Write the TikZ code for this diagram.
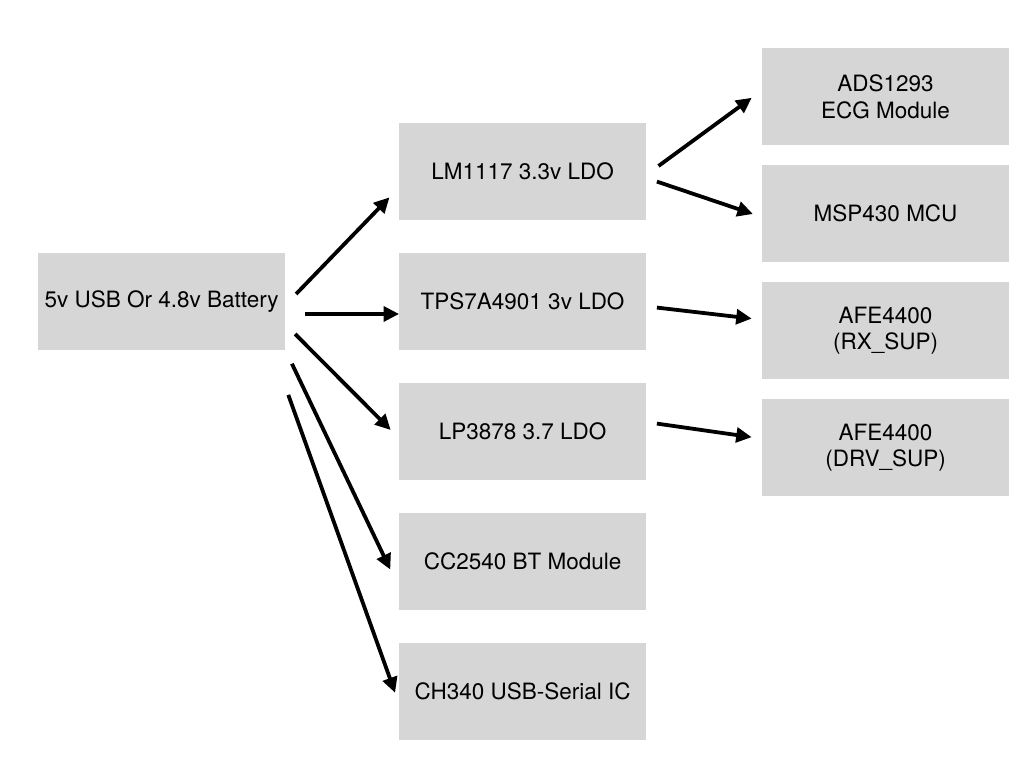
\documentclass[tikz,border=0pt]{standalone}
\usepackage{fontspec}
\setmainfont{TeX Gyre Heros}
\usepackage{tikz}
\usetikzlibrary{arrows.meta,calc,positioning,shapes}
\definecolor{boxgray}{RGB}{214,214,214}

\begin{document}
\begin{tikzpicture}[-{Triangle[length=11pt,width=10.5pt]},line width=2.7pt,
node distance=0.825cm]
\tikzstyle{block}=[fill=boxgray,draw=none,text=black,minimum width=6.175cm,
minimum height=2.425cm,inner sep=0pt,outer sep=0pt,align=center,
font=\fontsize{16}{19}\selectfont]
\useasboundingbox (0,0) rectangle (25.6,19.2);

\node[block] (source) at (4.04,11.66)           {5v USB Or 4.8v Battery};
\node[block] (tpsldo) [right=2.85cm of source] {TPS7A4901 3v LDO};
\node[block] (lmldo)  [above=of tpsldo]        {LM1117 3.3v LDO};
\node[block] (lpldo)  [below=of tpsldo]        {LP3878 3.7 LDO};
\node[block] (bt)     [below=of lpldo]         {CC2540 BT Module};
\node[block] (usbser) [below=of bt]            {CH340 USB-Serial IC};

\node[block] (rxsup)  [right=2.9cm of tpsldo,yshift=-0.725cm] {AFE4400\\(RX\_SUP)};
\node[block] (mcu)    [above=0.5cm of rxsup]   {MSP430 MCU};
\node[block] (ecg)    [above=0.5cm of mcu]     {ADS1293\\ECG Module};
\node[block] (drvsup) [below=0.5cm of rxsup]   {AFE4400\\(DRV\_SUP)};

\draw ($(source.east)+(0.275,0.19)$) -- ($(lmldo.south west)+(-0.24,0.57)$);
\draw ($(source.east)+(0.5,-0.31)$) -- ($(tpsldo.west)+(0,-0.31)$);
\draw ($(source.east)+(0.25,-0.81)$) -- ($(lpldo.west)+(-0.21,0.04)$);
\draw ($(source.south east)+(0.17,-0.34)$) -- ($(bt.west)+(-0.22,-0.2)$);
\draw ($(source.south east)+(0.08,-1.12)$) -- ($(usbser.west)+(-0.1,-0.03)$);
\draw ($(lmldo.east)+(0.31,0.14)$) -- ($(ecg.west)+(-0.26,-0.03)$);
\draw ($(lmldo.east)+(0.27,-0.25)$) -- ($(mcu.west)+(-0.23,-0.01)$);
\draw ($(tpsldo.east)+(0.27,-0.15)$) -- ($(rxsup.west)+(-0.26,0.3)$);
\draw ($(lpldo.east)+(0.27,0.2)$) -- ($(drvsup.west)+(-0.26,0.26)$);
\end{tikzpicture}
\end{document}
